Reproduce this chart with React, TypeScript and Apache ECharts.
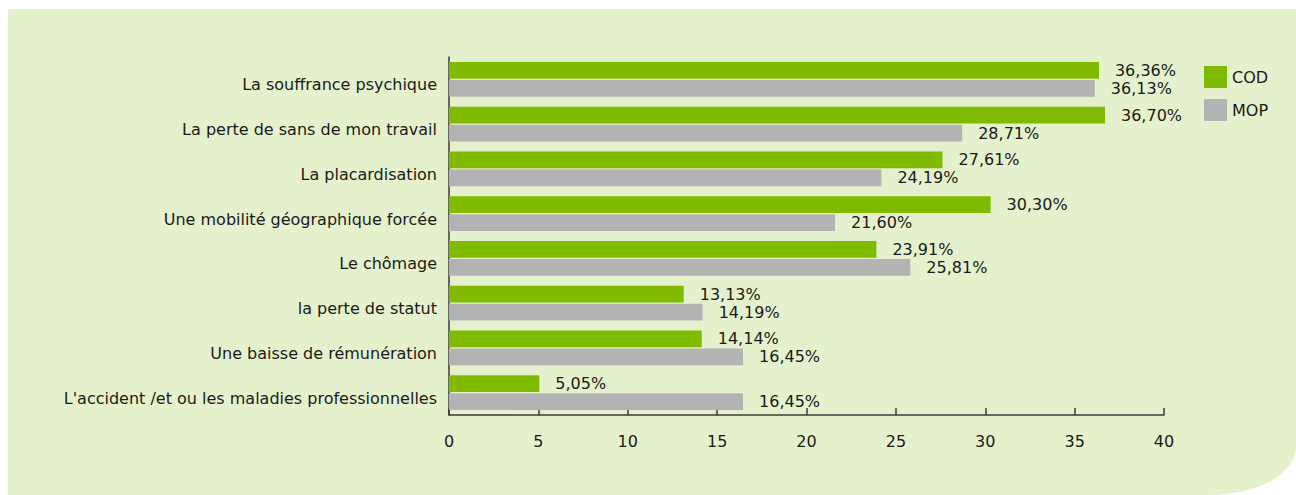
import React, { useEffect, useRef } from "react";
import * as echarts from "echarts";

const categories = [
  "La souffrance psychique",
  "La perte de sans de mon travail",
  "La placardisation",
  "Une mobilité géographique forcée",
  "Le chômage",
  "la perte de statut",
  "Une baisse de rémunération",
  "L'accident /et ou les maladies professionnelles",
];
const codValues = [36.36, 36.7, 27.61, 30.3, 23.91, 13.13, 14.14, 5.05];
const mopValues = [36.13, 28.71, 24.19, 21.6, 25.81, 14.19, 16.45, 16.45];
const seriesNames = ["COD", "MOP"];

const FONT = "'DejaVu Sans', sans-serif";
const fmt = (p: any) => Number(p.value).toFixed(2).replace(".", ",") + "%";

export default function App() {
  const ref = useRef<HTMLDivElement>(null);
  useEffect(() => {
    if (!ref.current) return;
    const chart = echarts.init(ref.current, null, { renderer: "svg" });
    const label = {
      show: true,
      position: "right" as const,
      distance: 16,
      formatter: fmt,
      color: "#1a1a1a",
      fontSize: 16,
      fontFamily: FONT,
    };
    chart.setOption({
      animation: false,
      textStyle: { fontFamily: FONT },
      grid: { left: 441, right: 132, top: 48, bottom: 80 },
      legend: {
        orient: "vertical",
        left: 1196,
        top: 57,
        padding: 0,
        itemWidth: 23,
        itemHeight: 22,
        itemGap: 11,
        icon: "rect",
        textStyle: { color: "#1a1a1a", fontSize: 16, fontFamily: FONT },
        data: seriesNames,
      },
      xAxis: {
        type: "value",
        min: 0,
        max: 40,
        interval: 5,
        axisLine: { show: true, lineStyle: { color: "#3a3a3a", width: 1.5 } },
        axisTick: { show: true, inside: true, length: 7, lineStyle: { color: "#3a3a3a", width: 1.5 } },
        axisLabel: { color: "#1a1a1a", fontSize: 16, margin: 18, fontFamily: FONT },
        splitLine: { show: false },
      },
      yAxis: {
        type: "category",
        inverse: true,
        data: categories,
        axisLine: { show: true, lineStyle: { color: "#3a3a3a", width: 1.5 } },
        axisTick: { show: false },
        axisLabel: {
          color: "#1a1a1a",
          fontSize: 16,
          margin: 12,
          fontFamily: FONT,
          verticalAlign: "top",
          lineHeight: 11,
        },
      },
      series: [
        {
          name: seriesNames[0],
          type: "bar",
          data: codValues,
          itemStyle: { color: "#80bb00" },
          barCategoryGap: "22%",
          barGap: "6%",
          label,
        },
        {
          name: seriesNames[1],
          type: "bar",
          data: mopValues,
          itemStyle: { color: "#b3b3b3" },
          barCategoryGap: "22%",
          barGap: "6%",
          label,
        },
      ],
    });
    return () => chart.dispose();
  }, []);
  return (
    <div
      ref={ref}
      style={{
        position: "absolute",
        left: 8,
        top: 9,
        width: 1288,
        height: 486,
        background: "#e5f1cc",
        borderBottomRightRadius: "86px 48px",
      }}
    />
  );
}
